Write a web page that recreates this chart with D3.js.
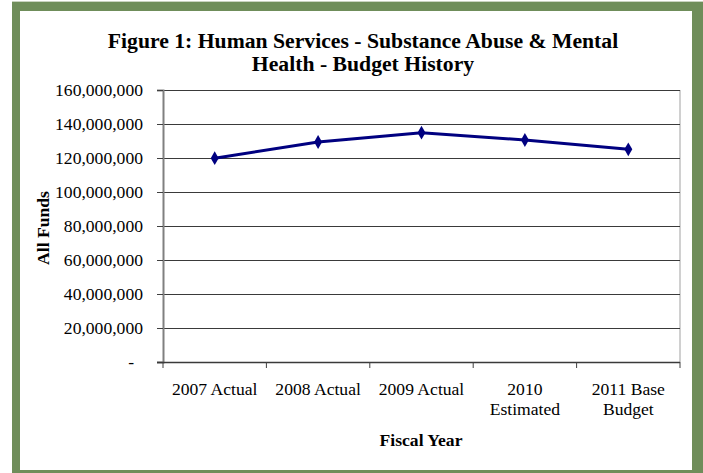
<!DOCTYPE html>
<html><head><meta charset="utf-8">
<script src="https://cdn.jsdelivr.net/npm/d3@7"></script>
<style>body{margin:0;background:#fff}svg{display:block}</style>
</head><body>
<script>
const categories = [["2007 Actual"],["2008 Actual"],["2009 Actual"],["2010","Estimated"],["2011 Base","Budget"]];
const values = [119900000, 129400000, 134900000, 130600000, 125100000];
const yTicks = [0,20000000,40000000,60000000,80000000,100000000,120000000,140000000,160000000];
const titleLines = ["Figure 1: Human Services - Substance Abuse & Mental","Health - Budget History"];

const W=703,H=473;
const svg=d3.select("body").append("svg").attr("width",W).attr("height",H);
svg.append("rect").attr("x",0).attr("y",0).attr("width",W).attr("height",H).attr("fill","#fff");
svg.append("rect").attr("x",12).attr("y",1).attr("width",W).attr("height",2).attr("fill","#c9d3c0");
svg.append("rect").attr("x",12).attr("y",2).attr("width",W).attr("height",H).attr("fill","#6f8d5a");
svg.append("rect").attr("x",20).attr("y",11).attr("width",672).attr("height",459).attr("fill","#fff");

const L=163,R=680,T=90,B=362;
const x=d3.scaleBand().domain(d3.range(categories.length)).range([L,R]);
const y=d3.scaleLinear().domain([0,160000000]).range([B,T]);
const font="'Liberation Serif','Times New Roman',serif";

// title
svg.append("g").selectAll("text").data(titleLines).join("text")
 .attr("x",363).attr("y",(d,i)=>48+i*23).attr("text-anchor","middle")
 .attr("font-family",font).attr("font-weight","bold").attr("font-size",21.7).attr("fill","#000").text(d=>d);

// plot border right
svg.append("line").attr("x1",R).attr("x2",R).attr("y1",T).attr("y2",B).attr("stroke","#c0c0c0").attr("stroke-width",1.5);

// gridlines
svg.append("g").selectAll("line").data(yTicks.filter(d=>d>0)).join("line")
 .attr("x1",L).attr("x2",R).attr("y1",d=>Math.round(y(d))+0.5).attr("y2",d=>Math.round(y(d))+0.5)
 .attr("stroke","#3a3a3a").attr("stroke-width",1);

// y axis
const yAxis=d3.axisLeft(y).tickValues(yTicks).tickSize(6).tickPadding(14)
 .tickFormat(d=>d===0?"-":d3.format(",")(d));
const gy=svg.append("g").attr("transform",`translate(${L},0)`).call(yAxis);
gy.select(".domain").attr("stroke","#808080").attr("stroke-width",2);
gy.selectAll(".tick line").attr("stroke","#404040");
gy.selectAll("text").attr("font-family",font).attr("font-size",17.6).attr("fill","#000");
gy.selectAll(".tick text").filter(d=>d===0).attr("dx",-9);

// x axis
const gx=svg.append("g").attr("transform",`translate(0,${B})`);
gx.append("line").attr("x1",L-6).attr("x2",R).attr("y1",0.5).attr("y2",0.5).attr("stroke","#3a3a3a").attr("stroke-width",1.5);
const bounds=d3.range(categories.length+1).map(i=>i<categories.length?x(i):R);
gx.selectAll("line.tk").data(bounds).join("line").attr("class","tk")
 .attr("x1",d=>d).attr("x2",d=>d).attr("y1",0).attr("y2",6).attr("stroke","#404040");
const lab=gx.selectAll("text.lab").data(categories).join("text").attr("class","lab")
 .attr("text-anchor","middle").attr("font-family",font).attr("font-size",17.6).attr("fill","#000")
 .attr("transform",(d,i)=>`translate(${x(i)+x.bandwidth()/2},33)`);
lab.selectAll("tspan").data(d=>d).join("tspan").attr("x",0).attr("dy",(d,i)=>i?20:0).text(d=>d);

// axis titles
svg.append("text").attr("x",421).attr("y",446).attr("text-anchor","middle")
 .attr("font-family",font).attr("font-weight","bold").attr("font-size",17.6).text("Fiscal Year");
svg.append("text").attr("transform",`translate(49,${(T+B)/2+2}) rotate(-90)`).attr("text-anchor","middle")
 .attr("font-family",font).attr("font-weight","bold").attr("font-size",17.6).text("All Funds");

// line
const line=d3.line().x((d,i)=>x(i)+x.bandwidth()/2).y(d=>y(d));
svg.append("path").datum(values).attr("d",line).attr("fill","none").attr("stroke","#000080").attr("stroke-width",3);
svg.append("g").selectAll("path").data(values).join("path")
 .attr("d",d3.symbol(d3.symbolDiamond,55))
 .attr("transform",(d,i)=>`translate(${x(i)+x.bandwidth()/2},${y(d)})`).attr("fill","#000080");
</script>
</body></html>
